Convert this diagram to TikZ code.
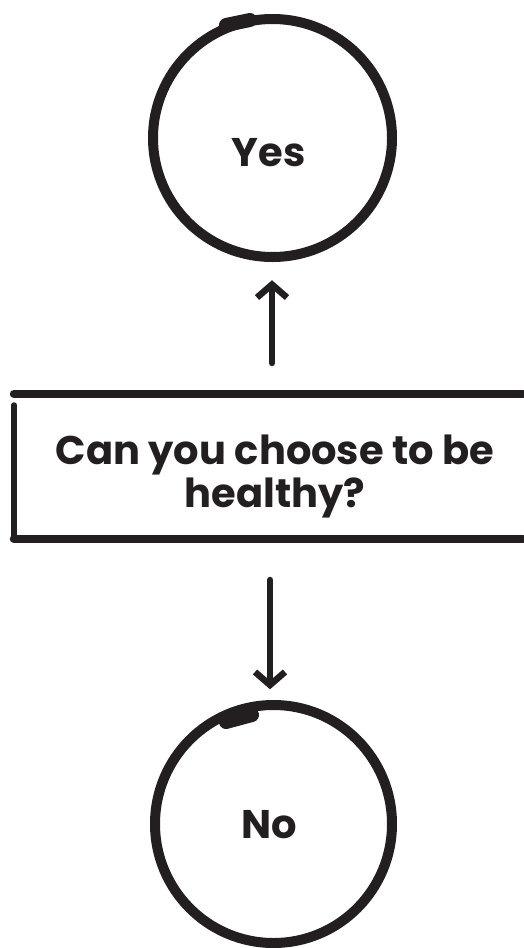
\documentclass[tikz,border=0pt]{standalone}
\usepackage{fontspec}
\usepackage{tikz}
\usetikzlibrary{arrows.meta,calc}
\setmainfont{Poppins}
\definecolor{ink}{HTML}{231F20}

\begin{document}
\begin{tikzpicture}[x=1pt, y=-1pt, line cap=round, line join=round,
    label text/.style={font=\bfseries\fontsize{40}{43}\selectfont, text=ink, align=center},
    hand arrow/.style={-{Straight Barb[length=13pt, width=30pt]}, line width=6.5pt, ink}]
    \useasboundingbox (0,0) rectangle (523,948);

    % Answer nodes
    \node[label text] (yes) at (268.5,152.5) {Yes};
    \node[label text] (no) at (269.5,825) {No};

    % Question text
    \node[label text] (question) at (275,476) {Can you choose to be\\healthy?};

    % Hand-drawn circles round the answers
    \draw[line width=10pt, ink] ($(yes)+(4,-14.5)$) ellipse (119.5 and 119);
    \draw[line width=14pt, ink] (226,25) -- (250,20);
    \draw[line width=10pt, ink] ($(no)+(4,-1)$) ellipse (118.5 and 119);
    \draw[line width=14pt, ink] (226,722) -- (252,715);

    % Open box round the question
    \coordinate (boxNW) at (14,394);
    \coordinate (boxSW) at (14,539);
    \draw[line width=8.5pt, ink] (boxNW) -- (523,394);
    \draw[line width=5.5pt, ink] (14,405) -- (boxSW);
    \draw[line width=8.5pt, ink] (boxSW) -- (523,539);

    % Arrows
    \coordinate (upTail) at (272,363);
    \coordinate (downTail) at (270,580);
    \draw[hand arrow, shorten >=110pt] (upTail) -- (yes.south -| upTail);
    \draw[hand arrow, shorten >=118pt] (downTail) -- (no.north -| downTail);
\end{tikzpicture}
\end{document}
